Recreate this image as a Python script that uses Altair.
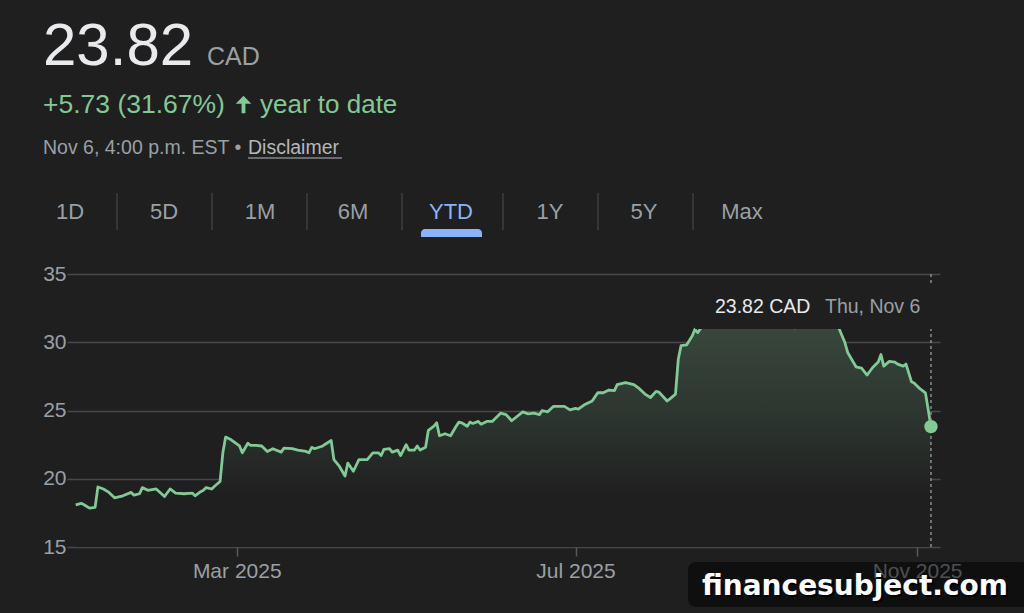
import altair as alt
import pandas as pd

# ---- data (day offsets from 2025-01-01, close in CAD) ----
days = [1, 3, 4, 6, 8, 9, 11, 13, 15, 18, 21, 22, 24, 25, 27, 30, 33, 35, 37, 40,
        43, 44, 46, 47, 48, 50, 51, 53, 54, 55, 57, 59, 60, 61, 63, 64, 66, 68, 70, 72,
        75, 76, 79, 81, 84, 85, 86, 87, 90, 91, 93, 94, 96, 98, 99, 101, 103, 106, 108, 110,
        111, 112, 114, 115, 117, 118, 120, 121, 123, 124, 125, 127, 128, 130, 131, 132, 134, 136, 138, 139,
        140, 142, 143, 144, 146, 147, 149, 151, 153, 154, 156, 158, 162, 164, 166, 168, 169, 171, 173, 177,
        179, 181, 182, 184, 187, 189, 191, 193, 195, 196, 199, 202, 204, 206, 208, 210, 211, 214, 215, 217,
        218, 219, 221, 223, 224, 225, 227, 232, 238, 245, 252, 258, 260, 263, 267, 270, 273, 275, 276, 278,
        279, 282, 284, 286, 288, 290, 291, 292, 294, 296, 297, 299, 300, 302, 303, 305, 307, 309]
prices = [18.09, 18.2, 18.1, 17.85, 17.9, 19.4, 19.25, 19.0, 18.6, 18.75, 19.0, 18.8, 18.9, 19.35, 19.15, 19.25, 18.7, 19.25, 18.95, 18.9,
          18.95, 18.75, 19.05, 19.15, 19.35, 19.25, 19.45, 19.8, 21.9, 23.05, 22.85, 22.55, 22.4, 21.9, 22.6, 22.45, 22.45, 22.4, 22.0, 22.2,
          21.95, 22.25, 22.2, 22.1, 22.0, 21.9, 22.3, 22.2, 22.4, 22.55, 22.8, 21.4, 20.9, 20.2, 21.15, 20.55, 21.4, 21.4, 21.9, 21.9,
          21.7, 22.15, 22.2, 21.95, 22.1, 21.7, 22.5, 22.1, 22.1, 22.4, 22.1, 22.3, 23.55, 23.85, 24.1, 23.15, 23.3, 23.15, 23.85, 24.15,
          24.1, 23.85, 24.15, 24.05, 24.2, 24.0, 24.2, 24.2, 24.6, 24.8, 24.7, 24.25, 24.9, 24.75, 24.8, 24.7, 25.0, 24.9, 25.3, 25.3,
          25.05, 25.15, 25.1, 25.4, 25.7, 26.3, 26.3, 26.5, 26.45, 26.9, 27.05, 26.9, 26.6, 26.2, 25.95, 26.4, 26.35, 25.7, 25.85, 26.2,
          28.75, 29.75, 29.8, 30.45, 30.95, 30.7, 31.3, 31.6, 32.0, 31.8, 32.2, 31.6, 31.05, 31.7, 31.1, 31.6, 31.1, 31.4, 30.95, 29.98,
          29.25, 28.2, 28.1, 27.6, 28.15, 28.55, 29.1, 28.25, 28.6, 28.55, 28.4, 28.25, 28.4, 27.1, 27.0, 26.6, 26.3, 23.82]

y_ticks = [15, 20, 25, 30, 35]
tabs = ["1D", "5D", "1M", "6M", "YTD", "1Y", "5Y", "Max"]
tab_x = [70, 164, 260, 353, 451, 550, 644, 742]
sep_x = [117, 212, 307, 402, 503, 598, 693]

BG = "#1f1f1f"
GREEN = "#81c995"
GRAY = "#9aa0a6"
WHITE = "#e8eaed"
FONT = "Liberation Sans"

# plot area origin in the page
OX, OY = 67, 274
W, H = 873, 273

df = pd.DataFrame({
    "date": pd.Timestamp("2025-01-01") + pd.to_timedelta(days, unit="D"),
    "price": prices,
})
df["base"] = 15
last = df.tail(1)

x_scale = alt.Scale(domain=[alt.DateTime(year=2024, month=12, date=29, hours=21),
                            alt.DateTime(year=2025, month=11, date=9, hours=6)])
y_scale = alt.Scale(domain=[15, 35], nice=False, zero=False)

x_enc = alt.X("date:T", scale=x_scale, title=None,
              axis=alt.Axis(values=[alt.DateTime(year=2025, month=3, date=1),
                                    alt.DateTime(year=2025, month=7, date=1),
                                    alt.DateTime(year=2025, month=11, date=1)],
                            format="%b %Y", grid=False, domain=False,
                            tickSize=9, tickColor="#55585c", tickWidth=1.5,
                            labelPadding=4, labelFontSize=21, labelColor=GRAY,
                            labelFont=FONT))
y_enc = alt.Y("price:Q", scale=y_scale, title=None,
              axis=alt.Axis(values=y_ticks, grid=True, gridColor="#46484b", gridWidth=1.5,
                            domain=False, ticks=False, tickSize=0, labelPadding=1,
                            labelFontSize=21, labelColor=GRAY, labelFont=FONT))

area = alt.Chart(df).mark_area(
    interpolate="linear",
    color=alt.Gradient(gradient="linear",
                       stops=[alt.GradientStop(color="#3a4a3e", offset=0),
                              alt.GradientStop(color="#2b322d", offset=0.5),
                              alt.GradientStop(color=BG, offset=0.78)],
                       x1=0, x2=0, y1=0, y2=1)
).encode(x=x_enc, y=y_enc, y2="base:Q")

line = alt.Chart(df).mark_line(color=GREEN, strokeWidth=2.8, strokeJoin="round").encode(x=x_enc, y=y_enc)

vrule = alt.Chart(last).mark_rule(color="#8a8d91", strokeWidth=1.5, strokeDash=[3, 3]).encode(
    x="date:T", y=alt.value(0), y2=alt.value(H))

dot = alt.Chart(last).mark_point(filled=True, size=180, color=GREEN, opacity=1).encode(x="date:T", y="price:Q")


def one(text=""):
    return pd.DataFrame({"t": [text]})


def label(text, x, y, size, color, align="left", baseline="alphabetic", weight="normal", font=FONT):
    return alt.Chart(one(text)).mark_text(
        align=align, baseline=baseline, fontSize=size, color=color, font=font, fontWeight=weight
    ).encode(x=alt.value(x), y=alt.value(y), text="t:N")


def box(x, x2, y, y2, color, **kw):
    return alt.Chart(one()).mark_rect(color=color, **kw).encode(
        x=alt.value(x), x2=alt.value(x2), y=alt.value(y), y2=alt.value(y2))


def seg(x, x2, y, y2, color, width):
    return alt.Chart(one()).mark_rule(color=color, strokeWidth=width).encode(
        x=alt.value(x), x2=alt.value(x2), y=alt.value(y), y2=alt.value(y2))


layers = [area, line, vrule, dot]

# hover tooltip box covering the top of the line
layers.append(box(695 - OX, 942 - OX, 286 - OY, 329 - OY, BG))
layers.append(label("23.82 CAD", 715 - OX, 313 - OY, 19.5, WHITE))
layers.append(label("Thu, Nov 6", 825 - OX, 313 - OY, 19.5, GRAY))

# header
layers.append(label("23.82", 43 - OX, 65 - OY, 60, WHITE))
layers.append(label("CAD", 207 - OX, 65 - OY, 25, GRAY))
layers.append(label("+5.73 (31.67%)", 43 - OX, 113 - OY, 26.5, GREEN))
arrow = alt.Chart(one()).mark_point(
    shape="M0,-1 L0.9,-0.1 L0.22,-0.1 L0.22,1 L-0.22,1 L-0.22,-0.1 L-0.9,-0.1 Z",
    filled=True, size=300, color=GREEN, opacity=1, strokeWidth=0
).encode(x=alt.value(243.5 - OX), y=alt.value(104.5 - OY))
layers.append(arrow)
layers.append(label("year to date", 260 - OX, 113 - OY, 26, GREEN))
layers.append(label("Nov 6, 4:00 p.m. EST •", 43 - OX, 154 - OY, 19.5, GRAY))
layers.append(label("Disclaimer", 248 - OX, 154 - OY, 19.5, "#b4b8bd"))
layers.append(seg(248 - OX, 342 - OX, 158 - OY, 158 - OY, "#b4b8bd", 1.2))

# range tabs
for name, cx in zip(tabs, tab_x):
    layers.append(label(name, cx - OX, 219 - OY, 22, "#8ab4f8" if name == "YTD" else GRAY, align="center"))
for sx in sep_x:
    layers.append(seg(sx - OX, sx - OX, 193 - OY, 230 - OY, "#3c4043", 1.5))
layers.append(box(421 - OX, 482 - OX, 229 - OY, 237 - OY, "#8ab4f8",
                  cornerRadiusTopLeft=5, cornerRadiusTopRight=5))

# watermark
layers.append(box(688 - OX, 1030 - OX, 562 - OY, 607 - OY, "#000000", opacity=0.5, cornerRadius=8))
layers.append(label("financesubject.com", 857 - OX, 589 - OY, 28, "#000000", align="center",
                    baseline="middle", weight="bold", font="DejaVu Sans"))
layers.append(label("financesubject.com", 855 - OX, 587 - OY, 28, "#ffffff", align="center",
                    baseline="middle", weight="bold", font="DejaVu Sans"))

chart = alt.layer(*layers).properties(
    width=W, height=H,
    background=BG,
    padding={"left": OX, "top": OY, "right": 1024 - OX - W, "bottom": 613 - OY - H},
    autosize=alt.AutoSizeParams(type="none"),
).configure_view(stroke=None)

chart.save("out.html", embed_options={"renderer": "svg", "actions": False})
